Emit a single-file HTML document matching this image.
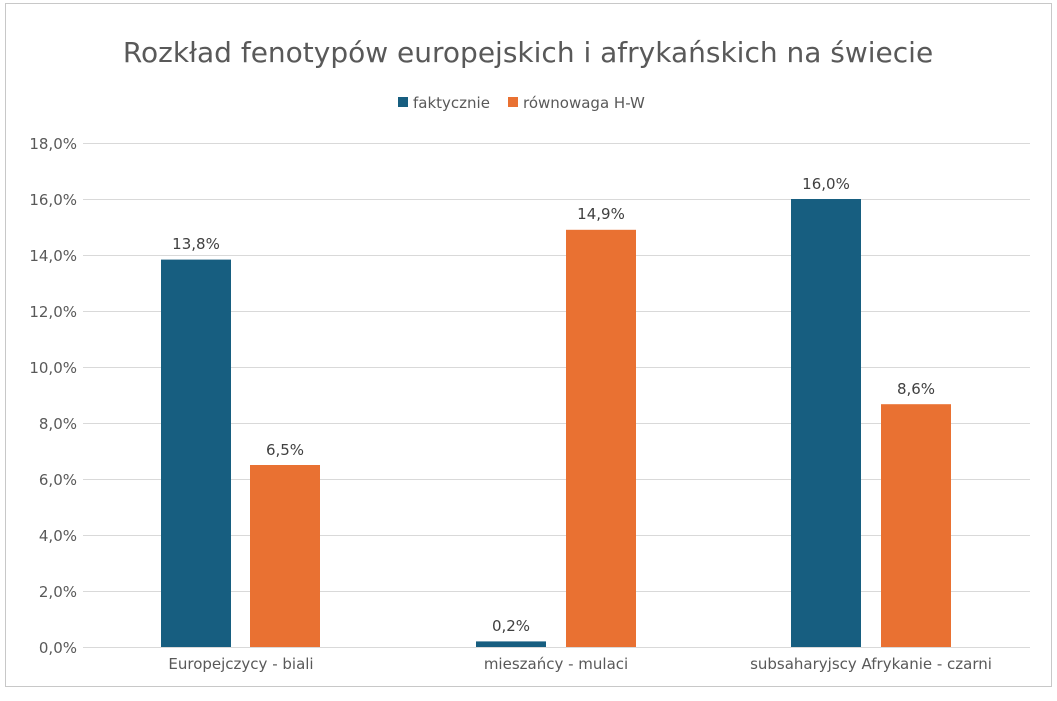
<!DOCTYPE html>
<html><head><meta charset="utf-8"><style>
body{margin:0;background:#fff;}
svg text{font-family:"DejaVu Sans","Liberation Sans",sans-serif;}
</style></head><body>
<svg width="1057" height="696" xmlns="http://www.w3.org/2000/svg">
<rect x="5.5" y="3.5" width="1046" height="683" fill="#fff" stroke="#c8c8c8" stroke-width="1"/>
<text x="528" y="62" font-size="28" fill="#595959" text-anchor="middle">Rozkład fenotypów europejskich i afrykańskich na świecie</text>
<rect x="398" y="97" width="10" height="10" fill="#175e80"/>
<text x="413" y="108" font-size="15" fill="#595959">faktycznie</text>
<rect x="508" y="97" width="10" height="10" fill="#e97132"/>
<text x="523" y="108" font-size="15" fill="#595959">równowaga H-W</text>
<g stroke="#d9d9d9" stroke-width="1">
<line x1="83" x2="1030" y1="143.5" y2="143.5"/>
<line x1="83" x2="1030" y1="199.5" y2="199.5"/>
<line x1="83" x2="1030" y1="255.5" y2="255.5"/>
<line x1="83" x2="1030" y1="311.5" y2="311.5"/>
<line x1="83" x2="1030" y1="367.5" y2="367.5"/>
<line x1="83" x2="1030" y1="423.5" y2="423.5"/>
<line x1="83" x2="1030" y1="479.5" y2="479.5"/>
<line x1="83" x2="1030" y1="535.5" y2="535.5"/>
<line x1="83" x2="1030" y1="591.5" y2="591.5"/>
<line x1="83" x2="1030" y1="647.5" y2="647.5"/>
</g>
<g font-size="15" fill="#595959" text-anchor="end">
<text x="77" y="149">18,0%</text><text x="77" y="205">16,0%</text><text x="77" y="261">14,0%</text>
<text x="77" y="317">12,0%</text><text x="77" y="373">10,0%</text><text x="77" y="429">8,0%</text>
<text x="77" y="485">6,0%</text><text x="77" y="541">4,0%</text><text x="77" y="597">2,0%</text><text x="77" y="653">0,0%</text>
</g>
<rect x="161" y="259.6" width="70" height="387.4" fill="#175e80"/>
<rect x="250" y="465" width="70" height="182" fill="#e97132"/>
<rect x="476" y="641.4" width="70" height="5.6" fill="#175e80"/>
<rect x="566" y="229.8" width="70" height="417.2" fill="#e97132"/>
<rect x="791" y="199" width="70" height="448" fill="#175e80"/>
<rect x="881" y="404.2" width="70" height="242.8" fill="#e97132"/>
<g font-size="15" fill="#404040" text-anchor="middle">
<text x="196" y="249">13,8%</text><text x="285" y="455">6,5%</text>
<text x="511" y="631">0,2%</text><text x="601" y="219">14,9%</text>
<text x="826" y="189">16,0%</text><text x="916" y="394">8,6%</text>
</g>
<g font-size="15" fill="#595959" text-anchor="middle">
<text x="241" y="669">Europejczycy - biali</text>
<text x="556" y="669">mieszańcy - mulaci</text>
<text x="871" y="669">subsaharyjscy Afrykanie - czarni</text>
</g>
</svg>
</body></html>
